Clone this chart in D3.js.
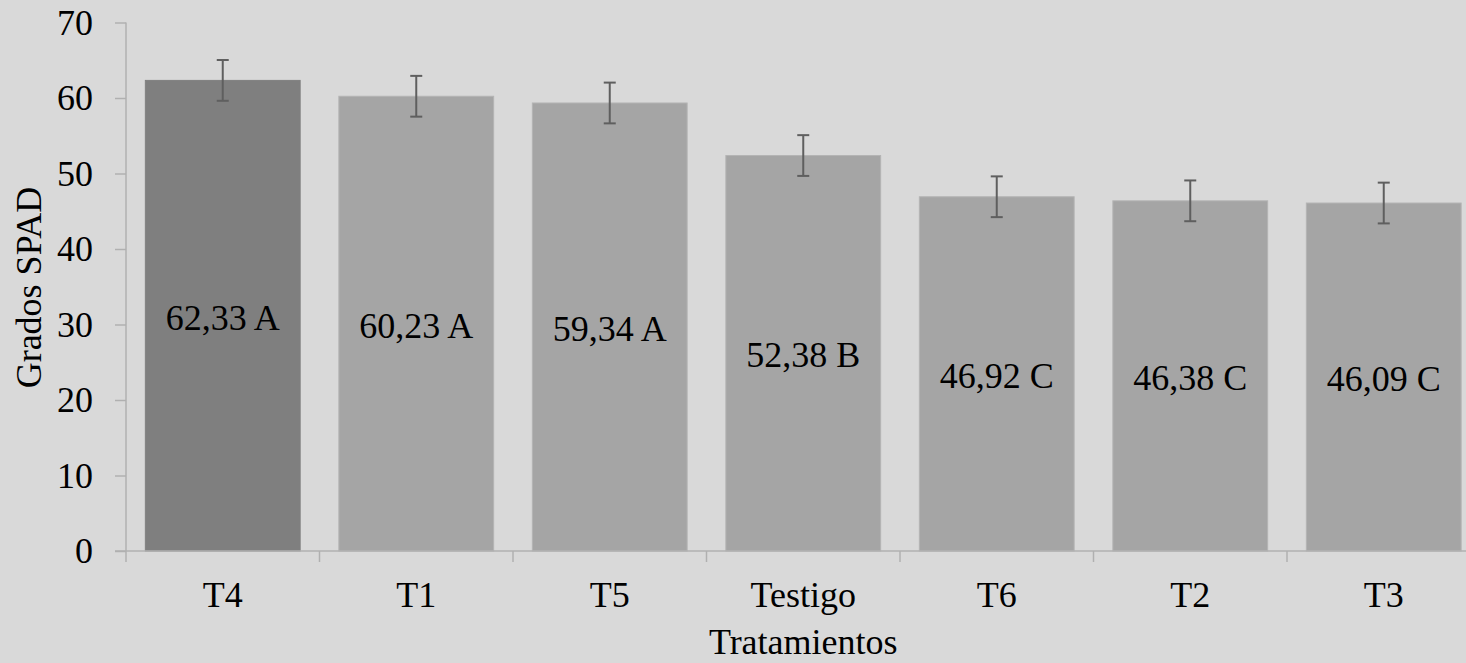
<!DOCTYPE html>
<html>
<head>
<meta charset="utf-8">
<script src="https://cdn.jsdelivr.net/npm/d3@7/dist/d3.min.js"></script>
<style>
  html, body { margin: 0; padding: 0; background: #d9d9d9; }
  svg { display: block; }
  text { font-family: "Liberation Serif", "DejaVu Serif", serif; fill: #000; }
</style>
</head>
<body>
<script>
const categories = ["T4", "T1", "T5", "Testigo", "T6", "T2", "T3"];
const values = [62.33, 60.23, 59.34, 52.38, 46.92, 46.38, 46.09];
const errors = [2.7, 2.7, 2.7, 2.7, 2.7, 2.7, 2.7];
const groups = ["A", "A", "A", "B", "C", "C", "C"];
const yTicks = [0, 10, 20, 30, 40, 50, 60, 70];
const highlight = ["T4"];

const W = 1466, H = 663;
const FONT = '"Liberation Serif", "DejaVu Serif", serif';
const svg = d3.select("body").append("svg").attr("width", W).attr("height", H);
svg.append("rect").attr("width", W).attr("height", H).attr("fill", "#d9d9d9");

const x0 = 126, x1 = 1480.5, yTop = 22.5, yBot = 551;
const x = d3.scaleBand().domain(categories).range([x0, x1]).paddingInner(0.2).paddingOuter(0.1);
const y = d3.scaleLinear().domain([0, 70]).range([yBot, yTop]);

const fmt = v => v.toFixed(2).replace(".", ",");

// bars
svg.append("g").selectAll("rect").data(categories).join("rect")
  .attr("x", d => x(d))
  .attr("width", x.bandwidth())
  .attr("y", (d, i) => y(values[i]))
  .attr("height", (d, i) => y(0) - y(values[i]))
  .attr("fill", d => highlight.includes(d) ? "#7f7f7f" : "#a5a5a5")
  .attr("stroke", d => highlight.includes(d) ? "#808080" : "#b4b4b4")
  .attr("stroke-width", 1);

// y axis
const yAxis = svg.append("g").attr("transform", `translate(${x0},0)`)
  .call(d3.axisLeft(y).tickValues(yTicks).tickSize(11).tickPadding(22).tickFormat(d3.format("d")));
yAxis.attr("font-family", FONT);
yAxis.selectAll("path, line").attr("stroke", "#b0b0b0").attr("stroke-width", 1.5);
yAxis.select(".domain").attr("d", `M0,${yTop}V${yBot}`);
yAxis.selectAll("text").style("font-family", FONT).style("font-size", "36px").attr("fill", "#000");

// x axis with ticks at band boundaries
const step = x.step();
const xAxis = svg.append("g").attr("transform", `translate(0,${yBot})`)
  .call(d3.axisBottom(x).tickSize(0).tickPadding(30));
xAxis.attr("font-family", FONT);
xAxis.select(".domain").attr("d", `M${x0 - 11},0H${W + 20}`).attr("stroke", "#b0b0b0").attr("stroke-width", 1.5);
xAxis.selectAll("text").style("font-family", FONT).style("font-size", "36px").attr("fill", "#000");
const bounds = d3.range(categories.length + 1).map(i => x0 + i * step);
xAxis.append("g").selectAll("line").data(bounds).join("line")
  .attr("x1", d => d).attr("x2", d => d).attr("y1", 0).attr("y2", 11)
  .attr("stroke", "#b0b0b0").attr("stroke-width", 1.5);

// error bars
const eb = svg.append("g").attr("stroke", "#5f5f5f").attr("stroke-width", 2);
categories.forEach((c, i) => {
  const cx = x(c) + x.bandwidth() / 2;
  const hi = y(values[i] + errors[i]), lo = y(values[i] - errors[i]);
  eb.append("line").attr("x1", cx).attr("x2", cx).attr("y1", hi).attr("y2", lo);
  eb.append("line").attr("x1", cx - 6).attr("x2", cx + 6).attr("y1", hi).attr("y2", hi);
  eb.append("line").attr("x1", cx - 6).attr("x2", cx + 6).attr("y1", lo).attr("y2", lo);
});

// value labels
svg.append("g").selectAll("text").data(categories).join("text")
  .attr("x", d => x(d) + x.bandwidth() / 2)
  .attr("y", (d, i) => (y(values[i]) + y(0)) / 2 + 14)
  .attr("text-anchor", "middle")
  .style("font-family", FONT)
  .style("font-size", "36px")
  .text((d, i) => `${fmt(values[i])} ${groups[i]}`);

// axis titles
svg.append("text").attr("x", (x0 + x1) / 2).attr("y", 654)
  .attr("text-anchor", "middle").style("font-family", FONT).style("font-size", "36px").text("Tratamientos");
svg.append("text").attr("transform", `translate(41,287.5) rotate(-90)`)
  .attr("text-anchor", "middle").style("font-family", FONT).style("font-size", "36px").text("Grados SPAD");
</script>
</body>
</html>
